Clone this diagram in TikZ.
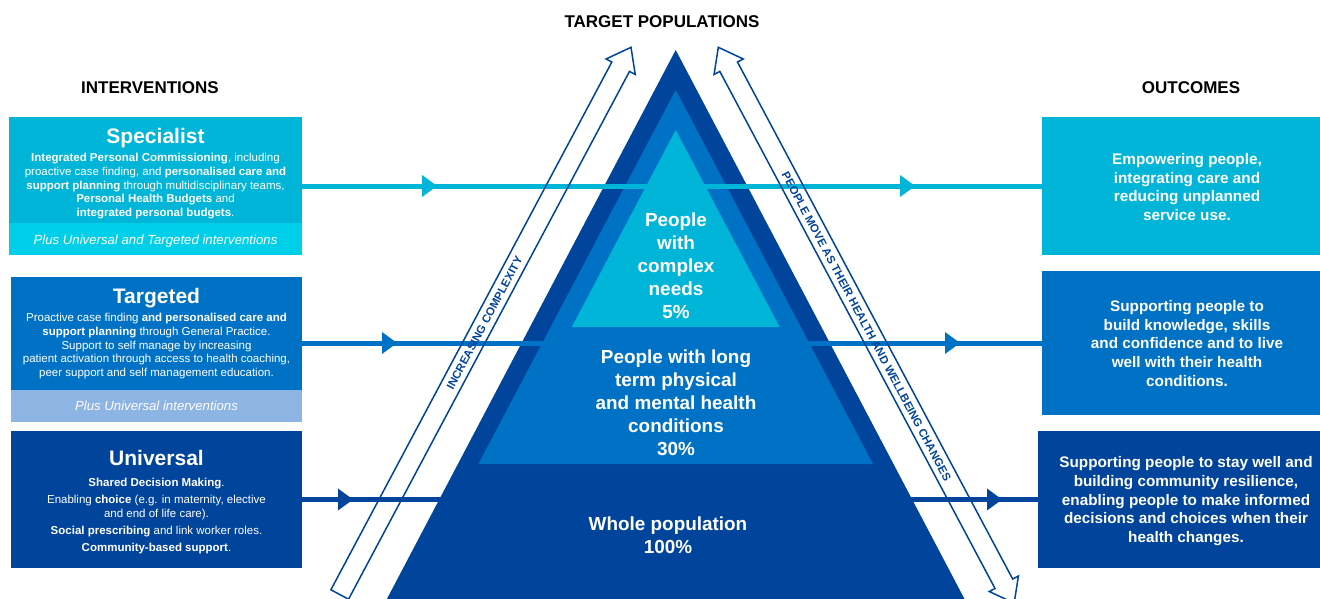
\documentclass[tikz,border=0pt]{standalone}
\usepackage{fontspec}
\setmainfont{Liberation Sans}
\definecolor{dkb}{HTML}{00449B}
\definecolor{mdb}{HTML}{0072C6}
\definecolor{cyb}{HTML}{00B5D7}
\definecolor{cyl}{HTML}{00CFEA}
\definecolor{ltb}{HTML}{8DB4E2}
\begin{document}
\begin{tikzpicture}[x=1pt,y=-1pt,
  lbox/.style={rectangle, inner sep=0pt, outer sep=0pt, anchor=north west, draw=none},
  ttl/.style={text=white, font=\fontsize{21}{25}\selectfont\bfseries, anchor=base, inner sep=0pt},
  body/.style={text=white, font=\fontsize{11.5}{13.7}\selectfont, align=center, anchor=base, inner sep=0pt},
  bandtxt/.style={text=white, font=\fontsize{13.2}{15}\selectfont\itshape, anchor=base, inner sep=0pt},
  obody/.style={text=white, font=\fontsize{15.3}{18.6}\selectfont\bfseries, align=center, anchor=base, inner sep=0pt},
  pyr/.style={text=white, font=\fontsize{18.9}{23}\selectfont\bfseries, align=center, anchor=base, inner sep=0pt},
  head/.style={font=\fontsize{17}{20}\selectfont\bfseries, anchor=base, inner sep=0pt},
  flow/.style={line width=5pt},
  hollow/.style={draw=dkb, line width=1.5pt, line join=miter},
  atxt/.style={text=dkb, font=\fontsize{11.4}{13}\selectfont\bfseries, inner sep=0pt}
]
\useasboundingbox (0,0) rectangle (1320,599);
\clip (0,0) rectangle (1320,599);

% pyramid
\fill[dkb] (675.7,50) -- (970.3,610) -- (381.1,610) -- cycle;
\fill[mdb] (675.7,90) -- (873,464) -- (478.4,464) -- cycle;
\fill[cyb] (675.7,130) -- (779.6,327) -- (571.8,327) -- cycle;

% boxes
\node[lbox, fill=cyb, minimum width=293pt, minimum height=138pt] (spec) at (9,117) {};
\node[lbox, fill=cyl, minimum width=293pt, minimum height=32pt] (band1) at (9,223) {};
\node[lbox, fill=mdb, minimum width=291pt, minimum height=145pt] (tgt) at (11,277) {};
\node[lbox, fill=ltb, minimum width=291pt, minimum height=32pt] (band2) at (11,390) {};
\node[lbox, fill=dkb, minimum width=291pt, minimum height=137pt] (uni) at (11,431) {};

\node[lbox, fill=cyb, minimum width=280pt, minimum height=138pt] (out1) at (1042,117) {};
\node[lbox, fill=mdb, minimum width=280pt, minimum height=144pt] (out2) at (1042,271) {};
\node[lbox, fill=dkb, minimum width=284pt, minimum height=137pt] (out3) at (1038,431) {};

% flow lines
\draw[flow, cyb] (spec.east) -- (out1.west);
\draw[flow, mdb] (tgt.east |- out2.west) -- (out2.west);
\draw[flow, dkb] (uni.east) -- (out3.west);
\fill[cyb] (437,186) -- ++(-15,-11) -- ++(0,22) -- cycle;
\fill[cyb] (915,186) -- ++(-15,-11) -- ++(0,22) -- cycle;
\fill[mdb] (397,343) -- ++(-15,-11) -- ++(0,22) -- cycle;
\fill[mdb] (960,343) -- ++(-15,-11) -- ++(0,22) -- cycle;
\fill[dkb] (353,499.5) -- ++(-15,-11) -- ++(0,22) -- cycle;
\fill[dkb] (1002,499.5) -- ++(-15,-11) -- ++(0,22) -- cycle;

% hollow arrows
\draw[hollow] (330.87,589.8) -- (611.83,62.02) -- (606.1,58.97) -- (631,47.3)
  -- (635.22,74.47) -- (629.49,71.42) -- (348.53,599.2) -- cycle;
\draw[hollow] (718.3,47.3) -- (743.2,58.97) -- (737.47,62.02) -- (1012.67,579.04)
  -- (1018.4,575.99) -- (1014.18,603.16) -- (989.28,591.49) -- (995.0,588.44)
  -- (719.81,71.42) -- (714.08,74.47) -- cycle;
\node[atxt, rotate=62] (inc) at (484.5,323) {INCREASING COMPLEXITY};
\node[atxt, rotate=-62] (move) at (866.5,326.5) {PEOPLE MOVE AS THEIR HEALTH AND WELLBEING CHANGES};

% headings
\node[head] (hpop) at (662,28) {TARGET POPULATIONS};
\node[head] (hint) at (150,94) {INTERVENTIONS};
\node[head] (hout) at (1191,94) {OUTCOMES};

% left texts (anchor base = last line baseline)
\node[ttl] (specT) at (155.5,143.3) {Specialist};
\node[body] (specB) at (155.5,216.5) {\textbf{Integrated Personal Commissioning}, including\\
proactive case finding, and \textbf{personalised care and}\\
\textbf{support planning} through multidisciplinary teams,\\
\textbf{Personal Health Budgets} and\\
\textbf{integrated personal budgets}.};
\node[bandtxt] (band1T) at (155.5,244) {Plus Universal and Targeted interventions};

\node[ttl] (tgtT) at (156.5,303.3) {Targeted};
\node[body] (tgtB) at (156.5,376.6) {Proactive case finding \textbf{and personalised care and}\\
\textbf{support planning} through General Practice.\\
Support to self manage by increasing\\
patient activation through access to health coaching,\\
peer support and self management education.};
\node[bandtxt] (band2T) at (156.5,410.7) {Plus Universal interventions};

\node[ttl] (uniT) at (156.5,465.7) {Universal};
\node[body] (uniB) at (156.5,551.7) {\textbf{Shared Decision Making}.\\[3.3pt]
Enabling \textbf{choice} (e.g. in maternity, elective\\
and end of life care).\\[3.3pt]
\textbf{Social prescribing} and link worker roles.\\[3.7pt]
\textbf{Community-based support}.};

% right texts
\node[obody] (out1T) at (1187,220.2) {Empowering people,\\integrating care and\\reducing unplanned\\service use.};
\node[obody] (out2T) at (1187,386) {Supporting people to\\build knowledge, skills\\and confidence and to live\\well with their health\\conditions.};
\node[obody] (out3T) at (1186,542.3) {Supporting people to stay well and\\building community resilience,\\enabling people to make informed\\decisions and choices when their\\health changes.};

% pyramid texts
\node[pyr] (lvl1) at (676,318.3) {People\\with\\complex\\needs\\5\%};
\node[pyr] (lvl2) at (676,455) {People with long\\term physical\\and mental health\\conditions\\30\%};
\node[pyr] (lvl3) at (668,553.3) {Whole population\\100\%};
\end{tikzpicture}
\end{document}
